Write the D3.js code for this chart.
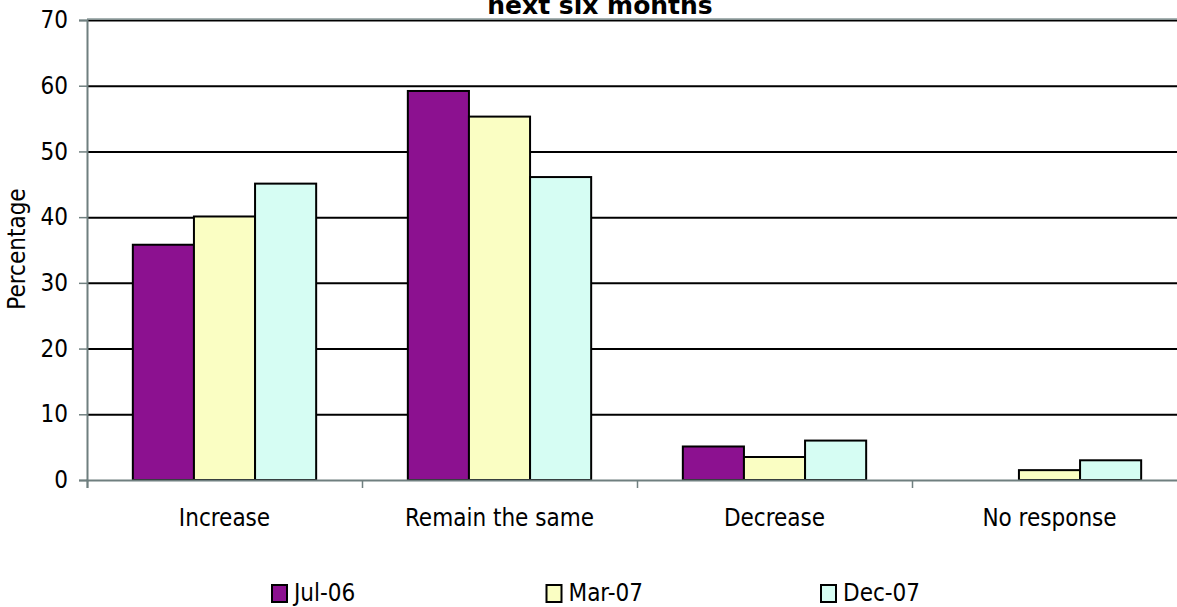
<!DOCTYPE html>
<html>
<head>
<meta charset="utf-8">
<script src="https://cdn.jsdelivr.net/npm/d3@7"></script>
<style>
  html, body { margin: 0; padding: 0; background: #fff; }
  svg { display: block; }
  text { font-family: "DejaVu Sans Condensed", "DejaVu Sans", sans-serif; fill: #000; }
</style>
</head>
<body>
<svg id="chart" width="1177" height="607"></svg>
<script>
// Survey responses: expected change over the next six months (%)
const categories = ["Increase", "Remain the same", "Decrease", "No response"];
const seriesNames = ["Jul-06", "Mar-07", "Dec-07"];
const jul06 = [35.8, 59.2, 5.1, 0];
const mar07 = [40.1, 55.3, 3.5, 1.5];
const dec07 = [45.1, 46.1, 6.0, 3.0];
const yTicks = [0, 10, 20, 30, 40, 50, 60, 70];
const colors = ["#8c1190", "#fafec3", "#d6fdf3"];
const titleText = "next six months";

const values = [jul06, mar07, dec07];

const svg = d3.select("#chart");
const plot = { left: 87, top: 20, right: 1187, bottom: 480 };

const y = d3.scaleLinear().domain([0, 70]).range([plot.bottom, plot.top]);
const x0 = d3.scaleBand().domain(categories).range([plot.left, plot.right]).padding(0);
const x1 = d3.scaleBand().domain(seriesNames).range([0, x0.bandwidth()])
  .paddingInner(0).paddingOuter(0.75);

// horizontal gridlines
svg.append("g")
  .selectAll("line")
  .data(yTicks.filter(d => d > 0))
  .join("line")
  .attr("x1", plot.left).attr("x2", plot.right)
  .attr("y1", d => y(d) + 0.5).attr("y2", d => y(d) + 0.5)
  .attr("stroke", "#000").attr("stroke-width", 2);

// plot frame top edge
svg.append("line")
  .attr("x1", plot.left).attr("x2", plot.right)
  .attr("y1", plot.top - 1).attr("y2", plot.top - 1)
  .attr("stroke", "#8a9a9a").attr("stroke-width", 1.5);

// bars
const groups = svg.append("g")
  .selectAll("g")
  .data(categories)
  .join("g")
  .attr("transform", c => `translate(${x0(c)},0)`);

groups.selectAll("rect")
  .data((c, i) => seriesNames.map((s, j) => ({ s, j, v: values[j][i] })))
  .join("rect")
  .filter(d => d.v > 0)
  .attr("x", d => x1(d.s))
  .attr("y", d => y(d.v))
  .attr("width", x1.bandwidth())
  .attr("height", d => y(0) - y(d.v))
  .attr("fill", d => colors[d.j])
  .attr("stroke", "#000")
  .attr("stroke-width", 2);

// y axis
const yAxis = d3.axisLeft(y).tickValues(yTicks).tickSize(8).tickPadding(11);
const gy = svg.append("g")
  .attr("transform", `translate(${plot.left},0)`)
  .call(yAxis);
gy.select(".domain").attr("stroke", "#6f7f7f").attr("stroke-width", 2);
gy.selectAll(".tick line").attr("stroke", "#6f7f7f").attr("stroke-width", 1.5);
gy.selectAll(".tick text")
  .attr("font-size", 24)
  .style("font-family", '"DejaVu Sans Condensed", "DejaVu Sans", sans-serif')
  .attr("fill", "#000");

// x axis: ticks at category boundaries, labels centred in each band
const boundaries = categories.map(c => x0(c));
const xb = d3.scaleLinear().domain([plot.left, plot.right]).range([plot.left, plot.right]);
const gx = svg.append("g")
  .attr("transform", `translate(0,${plot.bottom})`)
  .call(d3.axisBottom(xb).tickValues(boundaries.concat([plot.right])).tickSize(8).tickFormat(""));
gx.select(".domain").attr("stroke", "#6f7f7f").attr("stroke-width", 2);
gx.selectAll(".tick line").attr("stroke", "#6f7f7f").attr("stroke-width", 1.5);

svg.append("g")
  .selectAll("text")
  .data(categories)
  .join("text")
  .attr("x", c => x0(c) + x0.bandwidth() / 2)
  .attr("y", 526)
  .attr("text-anchor", "middle")
  .attr("font-size", 24)
  .text(c => c);

// y axis title
svg.append("text")
  .attr("transform", "translate(25,249) rotate(-90)")
  .attr("text-anchor", "middle")
  .attr("font-size", 24)
  .text("Percentage");

// chart title (second line visible)
svg.append("text")
  .attr("x", 600)
  .attr("y", 14)
  .attr("text-anchor", "middle")
  .attr("font-size", 25)
  .attr("font-weight", "bold")
  .style("font-family", '"DejaVu Sans", sans-serif')
  .text(titleText);

// legend
const legendX = d3.scalePoint().domain(seriesNames).range([272, 821]);
const legend = svg.append("g")
  .selectAll("g")
  .data(seriesNames)
  .join("g")
  .attr("transform", s => `translate(${legendX(s)},585)`);
legend.append("rect")
  .attr("width", 15).attr("height", 17)
  .attr("fill", (s, i) => colors[i])
  .attr("stroke", "#000").attr("stroke-width", 2);
legend.append("text")
  .attr("x", 22).attr("y", 16)
  .attr("font-size", 24)
  .text(s => s);
</script>
</body>
</html>
